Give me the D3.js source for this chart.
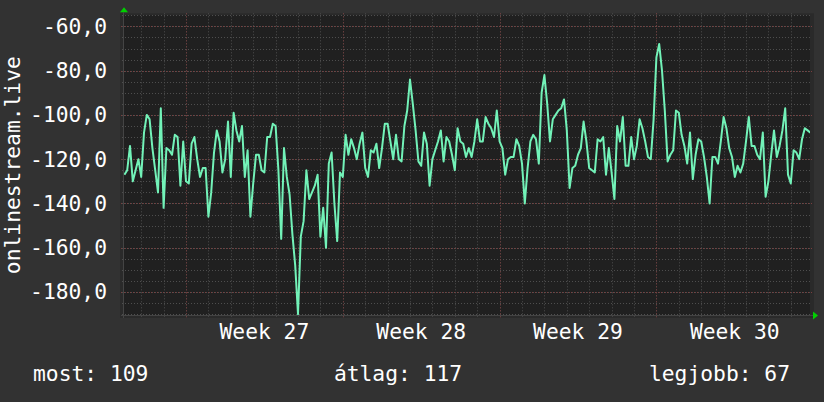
<!DOCTYPE html>
<html>
<head>
<meta charset="utf-8">
<script src="https://cdn.jsdelivr.net/npm/d3@7"></script>
<style>
  html, body { margin: 0; padding: 0; background: #323232; }
  svg { display: block; }
  text { font-family: "DejaVu Sans Mono", monospace; fill: #ffffff; }
</style>
</head>
<body>
<svg></svg>
<script>
const SVG_WIDTH = 824;
const SVG_HEIGHT = 402;
const PLOT_LEFT = 124;
const PLOT_RIGHT = 810;
const PLOT_TOP = 15.3;
const PLOT_BOTTOM = 315;
const FONT_SIZE = 21.3;

// data: signal level, one reading every 3 hours starting 2024-06-28 06:00
const startTime = Date.UTC(2024, 5, 28, 6, 0);
const stepHours = 3;
const levels = [
  -127, -125, -114, -130, -125, -120, -128, -108, -100, -102,
  -115, -125, -135, -97, -142, -115, -116, -118, -109, -110,
  -132, -112, -130, -131, -113, -110, -120, -128, -124, -124,
  -146, -135, -117, -107, -112, -126, -120, -103, -128, -99,
  -107, -112, -105, -128, -116, -146, -131, -118, -118, -125,
  -126, -110, -110, -104, -105, -125, -156, -115, -128, -136,
  -154, -168, -190, -155, -148, -125, -138, -135, -132, -127,
  -155, -142, -160, -122, -117, -140, -157, -126, -128, -109,
  -118, -111, -115, -120, -113, -108, -124, -128, -116, -117,
  -113, -124, -115, -104, -104, -112, -120, -109, -120, -121,
  -105, -98, -84, -95, -107, -121, -123, -108, -113, -132,
  -120, -116, -112, -107, -121, -110, -112, -118, -125, -106,
  -112, -113, -119, -115, -119, -112, -102, -112, -112, -101,
  -104, -106, -110, -98, -112, -115, -127, -120, -119, -119,
  -111, -114, -122, -140, -124, -112, -109, -111, -122, -90,
  -82, -95, -112, -102, -100, -98, -97, -93, -107, -133,
  -124, -123, -118, -115, -103, -112, -124, -125, -126, -111,
  -112, -110, -127, -115, -126, -138, -105, -112, -101, -123,
  -123, -110, -120, -114, -102, -106, -112, -119, -120, -102,
  -74, -68, -80, -98, -121, -118, -116, -98, -99, -109,
  -114, -122, -108, -129, -118, -111, -112, -119, -128, -140,
  -119, -119, -122, -112, -101, -106, -115, -119, -128, -123,
  -126, -122, -112, -101, -114, -114, -118, -120, -108, -137,
  -130, -118, -107, -119, -114, -107, -97, -127, -131, -116,
  -117, -120, -111, -106, -107, -108
];

const yTicks = [-180, -160, -140, -120, -100, -80, -60];
const yTitle = "onlinestream.live";
const legendLabels = ["most: 109", "átlag: 117", "legjobb: 67"];

function renderChart() {
  const data = levels.map(function(v, i) {
    return {time: new Date(startTime + i * stepHours * 3600 * 1000), value: v};
  });

  const xScale = d3.scaleUtc()
    .domain([new Date(Date.UTC(2024, 5, 28, 5, 34)), new Date(Date.UTC(2024, 6, 28, 20, 34))])
    .range([PLOT_LEFT, PLOT_RIGHT]);
  const yScale = d3.scaleLinear().domain([-190.4, -55]).range([PLOT_BOTTOM, PLOT_TOP]);

  const svg = d3.select("svg").attr("width", SVG_WIDTH).attr("height", SVG_HEIGHT);

  svg.append("rect").attr("width", SVG_WIDTH).attr("height", SVG_HEIGHT).attr("fill", "#323232");

  // frame strip and canvas
  svg.append("rect")
    .attr("x", PLOT_LEFT - 4).attr("y", PLOT_TOP - 2)
    .attr("width", PLOT_RIGHT - PLOT_LEFT + 8).attr("height", PLOT_BOTTOM - PLOT_TOP + 5)
    .attr("fill", "#2a2a2a");
  svg.append("rect")
    .attr("x", PLOT_LEFT).attr("y", PLOT_TOP)
    .attr("width", PLOT_RIGHT - PLOT_LEFT).attr("height", PLOT_BOTTOM - PLOT_TOP)
    .attr("fill", "#202020");

  const grid = svg.append("g");
  const [d0, d1] = xScale.domain();

  // minor grid: every day, every 5 units
  grid.selectAll(".vminor")
    .data(d3.utcDay.range(d0, d1))
    .enter().append("line")
    .attr("x1", function(d) {return Math.round(xScale(d)) + 0.5})
    .attr("x2", function(d) {return Math.round(xScale(d)) + 0.5})
    .attr("y1", PLOT_TOP - 2).attr("y2", PLOT_BOTTOM + 2)
    .attr("stroke", "#4e4e4e").attr("stroke-dasharray", "1,2");
  grid.selectAll(".hminor")
    .data(d3.range(-190, -54, 5))
    .enter().append("line")
    .attr("x1", PLOT_LEFT - 2).attr("x2", PLOT_RIGHT + 2)
    .attr("y1", function(d) {return Math.round(yScale(d)) + 0.5})
    .attr("y2", function(d) {return Math.round(yScale(d)) + 0.5})
    .attr("stroke", "#4e4e4e").attr("stroke-dasharray", "1,2");

  // major grid: weeks, every 20 units
  const mondays = d3.utcMonday.range(d0, d1);
  grid.selectAll(".vmajor")
    .data(mondays)
    .enter().append("line")
    .attr("x1", function(d) {return Math.round(xScale(d)) + 0.5})
    .attr("x2", function(d) {return Math.round(xScale(d)) + 0.5})
    .attr("y1", PLOT_TOP - 2).attr("y2", PLOT_BOTTOM + 3)
    .attr("stroke", "#7a3e3e").attr("stroke-dasharray", "1,2");
  grid.selectAll(".hmajor")
    .data(yTicks)
    .enter().append("line")
    .attr("x1", PLOT_LEFT - 3).attr("x2", PLOT_RIGHT + 2)
    .attr("y1", function(d) {return Math.round(yScale(d)) + 0.5})
    .attr("y2", function(d) {return Math.round(yScale(d)) + 0.5})
    .attr("stroke", "#7a3e3e").attr("stroke-dasharray", "1,2");

  // axes lines
  svg.append("line")
    .attr("x1", PLOT_LEFT - 3).attr("x2", PLOT_RIGHT + 3)
    .attr("y1", PLOT_BOTTOM + 0.5).attr("y2", PLOT_BOTTOM + 0.5)
    .attr("stroke", "#444444");
  svg.append("line")
    .attr("x1", PLOT_LEFT - 0.5).attr("x2", PLOT_LEFT - 0.5)
    .attr("y1", PLOT_TOP - 3).attr("y2", PLOT_BOTTOM + 3)
    .attr("stroke", "#444444");

  // arrows
  svg.append("path")
    .attr("d", "M" + (PLOT_LEFT - 4) + "," + (PLOT_TOP - 3) + "l4,-5l4,5z")
    .attr("fill", "#00d000");
  svg.append("path")
    .attr("d", "M" + (PLOT_RIGHT + 3) + "," + (PLOT_BOTTOM - 3.5) + "l5,4l-5,4z")
    .attr("fill", "#00d000");

  // data line
  svg.append("clipPath").attr("id", "plotclip")
    .append("rect")
    .attr("x", PLOT_LEFT).attr("y", PLOT_TOP - 2)
    .attr("width", PLOT_RIGHT - PLOT_LEFT).attr("height", PLOT_BOTTOM - PLOT_TOP + 2);
  const line = d3.line()
    .x(function(d) {return xScale(d.time)})
    .y(function(d) {return yScale(d.value)});
  svg.append("path")
    .datum(data)
    .attr("clip-path", "url(#plotclip)")
    .attr("d", line)
    .attr("fill", "none")
    .attr("stroke", "#72f2b8")
    .attr("stroke-width", 2)
    .attr("stroke-linejoin", "round");

  // y tick labels
  svg.selectAll(".ylabel")
    .data(yTicks)
    .enter().append("text")
    .attr("x", 107)
    .attr("y", function(d) {return yScale(d) + 7.5})
    .attr("text-anchor", "end")
    .attr("font-size", FONT_SIZE)
    .text(function(d) {return d.toFixed(1).replace(".", ",")});

  // week labels
  const weekFormat = d3.utcFormat("%V");
  const weekCenters = mondays.map(function(m) {return {monday: m, mid: d3.utcHour.offset(m, 84)}})
    .filter(function(w) {return w.mid < d1});
  svg.selectAll(".xlabel")
    .data(weekCenters)
    .enter().append("text")
    .attr("x", function(d) {return xScale(d.mid)})
    .attr("y", 339)
    .attr("text-anchor", "middle")
    .attr("font-size", FONT_SIZE)
    .attr("xml:space", "preserve")
    .text(function(d) {return "Week " + weekFormat(d.monday)});

  // y title
  svg.append("text")
    .attr("transform", "translate(20," + ((PLOT_TOP + PLOT_BOTTOM) / 2) + ") rotate(-90)")
    .attr("text-anchor", "middle")
    .attr("font-size", FONT_SIZE)
    .text(yTitle);

  // legend
  const legendX = [33, 398, 790];
  const legendAnchor = ["start", "middle", "end"];
  svg.selectAll(".legend")
    .data(legendLabels)
    .enter().append("text")
    .attr("x", function(d, i) {return legendX[i]})
    .attr("y", 381)
    .attr("text-anchor", function(d, i) {return legendAnchor[i]})
    .attr("font-size", FONT_SIZE)
    .text(function(d) {return d});
}

renderChart();
</script>
</body>
</html>
